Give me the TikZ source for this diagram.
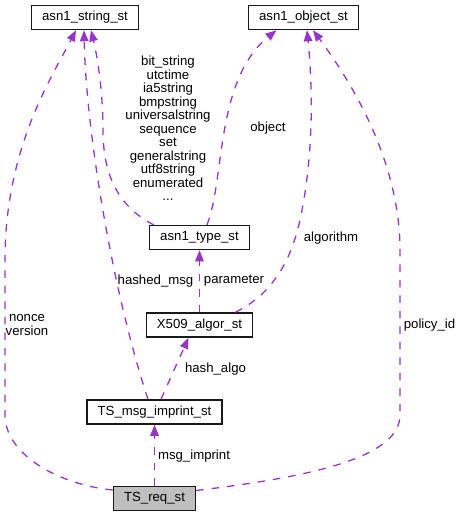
\documentclass[tikz,border=0pt]{standalone}
\usepackage{fontspec}
\setmainfont{Liberation Sans}
\usetikzlibrary{arrows.meta}
\definecolor{edgepurple}{HTML}{9A32CD}
\definecolor{reqgray}{HTML}{BFBFBF}
\tikzset{
  classbox/.style={draw=black!90, line width=1.5pt, fill=white, inner xsep=10.5pt, inner ysep=0pt,
    minimum height=24pt, font=\fontsize{13.2}{13.5}\selectfont},
  mainbox/.style={classbox, fill=reqgray},
  rel/.style={draw=edgepurple, line width=1.3pt, dash pattern=on 7.5pt off 8pt,
    -{Triangle[length=11pt,width=8.5pt]}},
  lbl/.style={inner sep=0pt, align=center, font=\fontsize{13.2}{13.5}\selectfont}
}
\begin{document}
\begin{tikzpicture}[x=1pt,y=-1pt]
\useasboundingbox (0,0) rectangle (461,517);
% nodes
\node[classbox] (str) at (85,17.5) {asn1\_string\_st};
\node[classbox] (obj) at (303.5,17.5) {asn1\_object\_st};
\node[classbox] (type) at (199.5,237.5) {asn1\_type\_st};
\node[classbox] (algor) at (199.5,325) {X509\_algor\_st};
\node[classbox] (imprint) at (154.5,412) {TS\_msg\_imprint\_st};
\node[mainbox] (req) at (154.5,498.5) {TS\_req\_st};
% edges
\draw[rel] ([yshift=8.5pt]req.west) .. controls (60,485) and (5,455) .. (5,415)
  -- (5,260) .. controls (5,150) and (50,80) .. ([xshift=-9pt]str.south);
\draw[rel] ([xshift=-6.5pt]imprint.north) .. controls (112,290) and (86,130) .. ([xshift=-1pt]str.south);
\draw[rel] ([xshift=-46pt]type.north) .. controls (115,205) and (103,170) .. (103,130)
  .. controls (103,90) and (97,55) .. ([xshift=6pt]str.south);
\draw[rel] ([xshift=7.5pt]type.north) .. controls (225,180) and (215,80) .. ([xshift=-27pt]obj.south);
\draw[rel] ([xshift=36pt]algor.north) .. controls (270,295) and (290,265) .. (300,220)
  .. controls (315,150) and (312,80) .. ([xshift=3.5pt]obj.south);
\draw[rel] (algor.north) -- (type.south);
\draw[rel] ([xshift=6.5pt]imprint.north) -- ([xshift=-11pt]algor.south);
\draw[rel] (req.north) -- (imprint.south);
\draw[rel] ([yshift=8pt]req.east) .. controls (300,478) and (400,460) .. (400,415)
  -- (400,250) .. controls (400,160) and (350,80) .. ([xshift=9.5pt]obj.south);
% labels
\node[lbl] (lnonce) at (27,325) {nonce\\version};
\node[lbl] (lhashed) at (155.5,281) {hashed\_msg};
\node[lbl] (lstr) at (168,128.5) {bit\_string\\utctime\\ia5string\\bmpstring\\universalstring\\sequence\\set\\generalstring\\utf8string\\enumerated\\...};
\node[lbl] (lobject) at (268,128) {object};
\node[lbl] (lalgo) at (331,238) {algorithm};
\node[lbl] (lparam) at (234,281) {parameter};
\node[lbl] (lhash) at (215.5,369) {hash\_algo};
\node[lbl] (lmsg) at (194,456) {msg\_imprint};
\node[lbl] (lpolicy) at (429.5,325) {policy\_id};
\end{tikzpicture}
\end{document}
